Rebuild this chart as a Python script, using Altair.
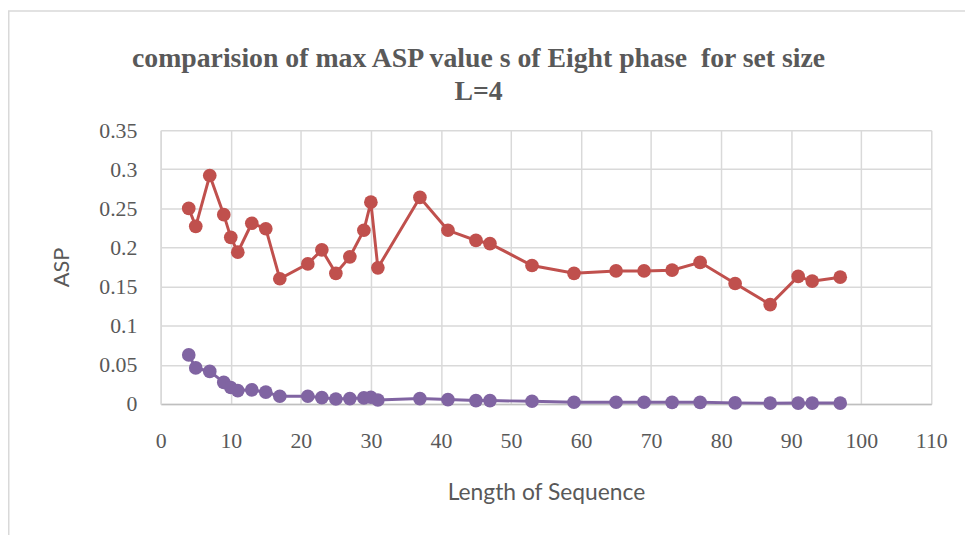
import altair as alt
import pandas as pd

lengths = [4, 5, 7, 9, 10, 11, 13, 15, 17, 21, 23, 25, 27, 29, 30, 31, 37, 41, 45, 47,
           53, 59, 65, 69, 73, 77, 82, 87, 91, 93, 97]
red_asp = [0.250, 0.227, 0.292, 0.242, 0.213, 0.194, 0.231, 0.224, 0.160, 0.179, 0.197,
           0.167, 0.188, 0.222, 0.258, 0.174, 0.264, 0.222, 0.209, 0.205, 0.177, 0.167,
           0.170, 0.170, 0.171, 0.181, 0.154, 0.127, 0.163, 0.157, 0.162]
purple_asp = [0.0626, 0.046, 0.0415, 0.0275, 0.021, 0.017, 0.018, 0.015, 0.0098, 0.0098,
              0.008, 0.0063, 0.0068, 0.0076, 0.0085, 0.005, 0.0068, 0.0055, 0.0042, 0.0042,
              0.0034, 0.0021, 0.0021, 0.0021, 0.002, 0.002, 0.0013, 0.0009, 0.001, 0.001,
              0.001]
series_names = ["Series A", "Series B"]
series_colors = ["#C0504D", "#8064A2"]
x_ticks = list(range(0, 111, 10))
y_ticks = [0, 0.05, 0.1, 0.15, 0.2, 0.25, 0.3, 0.35]
title_lines = ["comparision of max ASP value s of Eight phase \u00a0for set size", "L=4"]

df = pd.concat([
    pd.DataFrame({"len": lengths, "asp": red_asp, "series": series_names[0]}),
    pd.DataFrame({"len": lengths, "asp": purple_asp, "series": series_names[1]}),
])

W, H = 777, 276
PL, PT = 154, 121
PR = 965 - PL - W
PB = 527 - PT - H

color = alt.Color("series:N", scale=alt.Scale(domain=series_names, range=series_colors), legend=None)

x = alt.X("len:Q", scale=alt.Scale(domain=[0, 110], nice=False),
          axis=alt.Axis(values=x_ticks, title="Length of Sequence", format="d",
                        labelFont="Liberation Serif", labelFontSize=22, labelColor="#595959",
                        labelPadding=27, tickSize=0, grid=True, gridColor="#D9D9D9",
                        gridWidth=1.5, domainColor="#BFBFBF", domainWidth=1.5,
                        titleFont="Lato", titleFontSize=23, titleFontWeight="normal",
                        titleColor="#595959", titlePadding=30, labelFlush=False,
                        labelOverlap=False))
y = alt.Y("asp:Q", scale=alt.Scale(domain=[0, 0.35], nice=False),
          axis=alt.Axis(values=y_ticks, title="ASP", format="~g",
                        labelFont="Liberation Serif", labelFontSize=22, labelColor="#595959",
                        labelPadding=24, tickSize=0, grid=True, gridColor="#D9D9D9",
                        gridWidth=1.5, domainColor="#D9D9D9", domainWidth=1.5,
                        titleFont="Lato", titleFontSize=22, titleFontWeight="normal",
                        titleColor="#595959", titleX=-100, titleY=H / 2,
                        titleAlign="center", titleBaseline="middle", labelFlush=False,
                        labelOverlap=False))

frame = alt.Chart(pd.DataFrame({"k": [0]})).mark_rect(
    fill=None, stroke="#D9D9D9", strokeWidth=1.5
).encode(x=alt.value(-PL + 0.75), y=alt.value(-PT + 0.75), x2=alt.value(W + 200), y2=alt.value(H + 300))

title_df = pd.DataFrame({"t": title_lines, "row": [0, 1]})
title_base = alt.Chart(title_df).mark_text(
    font="Liberation Serif", fontSize=28, fontWeight="bold", color="#595959",
    align="center", baseline="alphabetic")
title1 = title_base.transform_filter("datum.row == 0").encode(
    text="t:N", x=alt.value(320.5), y=alt.value(-64))
title2 = title_base.transform_filter("datum.row == 1").encode(
    text="t:N", x=alt.value(320.5), y=alt.value(-30))

lines = alt.Chart(df).mark_line(strokeWidth=3).encode(x=x, y=y, color=color, detail="series:N")
points = alt.Chart(df).mark_point(filled=True, size=190, opacity=1).encode(x=x, y=y, color=color)

chart = alt.layer(frame, lines, points, title1, title2).properties(
    width=W, height=H,
    padding={"left": PL, "top": PT, "right": PR, "bottom": PB},
    autosize=alt.AutoSizeParams(type="none"),
).configure_view(stroke=None)

chart.save("out.html", embed_options={"renderer": "svg", "actions": False})
